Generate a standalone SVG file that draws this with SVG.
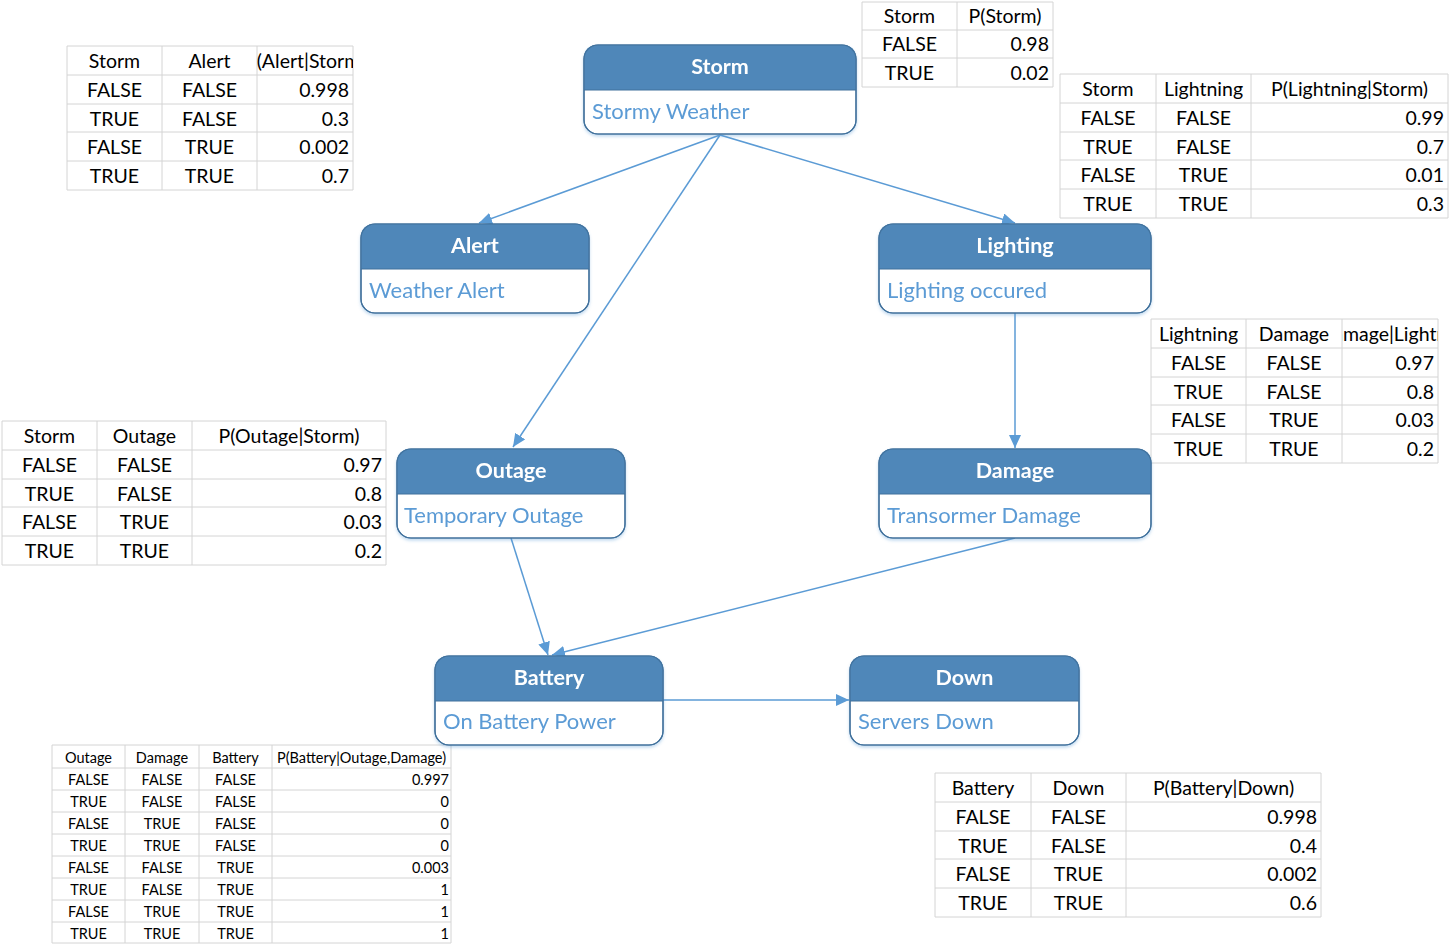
<svg xmlns="http://www.w3.org/2000/svg" width="1451" height="946" viewBox="0 0 1451 946">
<style>
.grid{fill:none;stroke:#d4d4d4;stroke-width:1}
.t{font-family:Lato,"Liberation Sans",sans-serif;font-size:19.5px;fill:#000}
.ts{font-family:Lato,"Liberation Sans",sans-serif;font-size:14.5px;fill:#000}
.c{text-anchor:middle}
.r{text-anchor:end}
.box{fill:#fff;stroke:#41719c;stroke-width:1.2}
.hdr{fill:#4f87b9}
.title{font-family:Lato,"Liberation Sans",sans-serif;font-size:21.5px;font-weight:bold;fill:#fff;text-anchor:middle}
.sub{font-family:Lato,"Liberation Sans",sans-serif;font-size:22px;fill:#5b9bd5}
.edge{fill:none;stroke:#5b9bd5;stroke-width:1.5}
</style>
<defs>
<marker id="arr" markerUnits="userSpaceOnUse" markerWidth="14" markerHeight="12" refX="13" refY="6" orient="auto">
<path d="M0,0 L13,6 L0,12 z" fill="#5b9bd5"/>
</marker>
<clipPath id="c1"><rect x="257" y="46" width="96" height="29"/></clipPath>
<clipPath id="c4"><rect x="1342" y="319" width="96" height="29"/></clipPath>
<clipPath id="c6"><rect x="272" y="745" width="179" height="23"/></clipPath>
<filter id="sh" x="-5%" y="-5%" width="110%" height="115%"><feDropShadow dx="0" dy="2" stdDeviation="1.5" flood-color="#5b9bd5" flood-opacity="0.35"/></filter>
</defs>
<rect width="1451" height="946" fill="#fff"/>

<!-- Tables -->
<g id="table-alert">
<path class="grid" d="M67,46H353M67,75H353M67,104H353M67,132H353M67,161H353M67,190H353M67,46V190M162,46V190M257,46V190M353,46V190"/>
<text class="t c" x="114.5" y="68">Storm</text><text class="t c" x="209.5" y="68">Alert</text>
<text class="t c" x="305" y="68" clip-path="url(#c1)">P(Alert|Storm)</text>
<text class="t c" x="114.5" y="97">FALSE</text><text class="t c" x="209.5" y="97">FALSE</text><text class="t r" x="349" y="97">0.998</text>
<text class="t c" x="114.5" y="126">TRUE</text><text class="t c" x="209.5" y="126">FALSE</text><text class="t r" x="349" y="126">0.3</text>
<text class="t c" x="114.5" y="154">FALSE</text><text class="t c" x="209.5" y="154">TRUE</text><text class="t r" x="349" y="154">0.002</text>
<text class="t c" x="114.5" y="183">TRUE</text><text class="t c" x="209.5" y="183">TRUE</text><text class="t r" x="349" y="183">0.7</text>
</g>

<g id="table-storm">
<path class="grid" d="M862,2H1053M862,30H1053M862,58H1053M862,87H1053M862,2V87M957,2V87M1053,2V87"/>
<text class="t c" x="909.5" y="23">Storm</text><text class="t c" x="1005" y="23">P(Storm)</text>
<text class="t c" x="909.5" y="51">FALSE</text><text class="t r" x="1049" y="51">0.98</text>
<text class="t c" x="909.5" y="80">TRUE</text><text class="t r" x="1049" y="80">0.02</text>
</g>

<g id="table-lightning">
<path class="grid" d="M1060,74H1448M1060,103H1448M1060,132H1448M1060,160H1448M1060,189H1448M1060,218H1448M1060,74V218M1156,74V218M1251,74V218M1448,74V218"/>
<text class="t c" x="1108" y="96">Storm</text><text class="t c" x="1203.5" y="96">Lightning</text><text class="t c" x="1349.5" y="96">P(Lightning|Storm)</text>
<text class="t c" x="1108" y="125">FALSE</text><text class="t c" x="1203.5" y="125">FALSE</text><text class="t r" x="1444" y="125">0.99</text>
<text class="t c" x="1108" y="154">TRUE</text><text class="t c" x="1203.5" y="154">FALSE</text><text class="t r" x="1444" y="154">0.7</text>
<text class="t c" x="1108" y="182">FALSE</text><text class="t c" x="1203.5" y="182">TRUE</text><text class="t r" x="1444" y="182">0.01</text>
<text class="t c" x="1108" y="211">TRUE</text><text class="t c" x="1203.5" y="211">TRUE</text><text class="t r" x="1444" y="211">0.3</text>
</g>

<g id="table-damage">
<path class="grid" d="M1151,319H1438M1151,348H1438M1151,377H1438M1151,405H1438M1151,434H1438M1151,463H1438M1151,319V463M1246,319V463M1342,319V463M1438,319V463"/>
<text class="t c" x="1198.5" y="341">Lightning</text><text class="t c" x="1294" y="341">Damage</text>
<text class="t c" x="1390" y="341" clip-path="url(#c4)">P(Damage|Lightning)</text>
<text class="t c" x="1198.5" y="370">FALSE</text><text class="t c" x="1294" y="370">FALSE</text><text class="t r" x="1434" y="370">0.97</text>
<text class="t c" x="1198.5" y="399">TRUE</text><text class="t c" x="1294" y="399">FALSE</text><text class="t r" x="1434" y="399">0.8</text>
<text class="t c" x="1198.5" y="427">FALSE</text><text class="t c" x="1294" y="427">TRUE</text><text class="t r" x="1434" y="427">0.03</text>
<text class="t c" x="1198.5" y="456">TRUE</text><text class="t c" x="1294" y="456">TRUE</text><text class="t r" x="1434" y="456">0.2</text>
</g>

<g id="table-outage">
<path class="grid" d="M2,421H386M2,450H386M2,479H386M2,507H386M2,536H386M2,565H386M2,421V565M97,421V565M192,421V565M386,421V565"/>
<text class="t c" x="49.5" y="443">Storm</text><text class="t c" x="144.5" y="443">Outage</text><text class="t c" x="289" y="443">P(Outage|Storm)</text>
<text class="t c" x="49.5" y="472">FALSE</text><text class="t c" x="144.5" y="472">FALSE</text><text class="t r" x="382" y="472">0.97</text>
<text class="t c" x="49.5" y="501">TRUE</text><text class="t c" x="144.5" y="501">FALSE</text><text class="t r" x="382" y="501">0.8</text>
<text class="t c" x="49.5" y="529">FALSE</text><text class="t c" x="144.5" y="529">TRUE</text><text class="t r" x="382" y="529">0.03</text>
<text class="t c" x="49.5" y="558">TRUE</text><text class="t c" x="144.5" y="558">TRUE</text><text class="t r" x="382" y="558">0.2</text>
</g>

<g id="table-battery">
<path class="grid" d="M52,745H451M52,768H451M52,790H451M52,812H451M52,834H451M52,856H451M52,878H451M52,900H451M52,922H451M52,943H451M52,745V943M125,745V943M199,745V943M272,745V943M451,745V943"/>
<text class="ts c" x="88.5" y="763">Outage</text><text class="ts c" x="162" y="763">Damage</text><text class="ts c" x="235.5" y="763">Battery</text>
<text class="ts c" x="361.5" y="763" clip-path="url(#c6)">P(Battery|Outage,Damage)</text>
<text class="ts c" x="88.5" y="785">FALSE</text><text class="ts c" x="162" y="785">FALSE</text><text class="ts c" x="235.5" y="785">FALSE</text><text class="ts r" x="449" y="785">0.997</text>
<text class="ts c" x="88.5" y="807">TRUE</text><text class="ts c" x="162" y="807">FALSE</text><text class="ts c" x="235.5" y="807">FALSE</text><text class="ts r" x="449" y="807">0</text>
<text class="ts c" x="88.5" y="829">FALSE</text><text class="ts c" x="162" y="829">TRUE</text><text class="ts c" x="235.5" y="829">FALSE</text><text class="ts r" x="449" y="829">0</text>
<text class="ts c" x="88.5" y="851">TRUE</text><text class="ts c" x="162" y="851">TRUE</text><text class="ts c" x="235.5" y="851">FALSE</text><text class="ts r" x="449" y="851">0</text>
<text class="ts c" x="88.5" y="873">FALSE</text><text class="ts c" x="162" y="873">FALSE</text><text class="ts c" x="235.5" y="873">TRUE</text><text class="ts r" x="449" y="873">0.003</text>
<text class="ts c" x="88.5" y="895">TRUE</text><text class="ts c" x="162" y="895">FALSE</text><text class="ts c" x="235.5" y="895">TRUE</text><text class="ts r" x="449" y="895">1</text>
<text class="ts c" x="88.5" y="917">FALSE</text><text class="ts c" x="162" y="917">TRUE</text><text class="ts c" x="235.5" y="917">TRUE</text><text class="ts r" x="449" y="917">1</text>
<text class="ts c" x="88.5" y="939">TRUE</text><text class="ts c" x="162" y="939">TRUE</text><text class="ts c" x="235.5" y="939">TRUE</text><text class="ts r" x="449" y="939">1</text>
</g>

<g id="table-down">
<path class="grid" d="M935,773H1321M935,802H1321M935,831H1321M935,859H1321M935,888H1321M935,917H1321M935,773V917M1031,773V917M1126,773V917M1321,773V917"/>
<text class="t c" x="983" y="795">Battery</text><text class="t c" x="1078.5" y="795">Down</text><text class="t c" x="1223.5" y="795">P(Battery|Down)</text>
<text class="t c" x="983" y="824">FALSE</text><text class="t c" x="1078.5" y="824">FALSE</text><text class="t r" x="1317" y="824">0.998</text>
<text class="t c" x="983" y="853">TRUE</text><text class="t c" x="1078.5" y="853">FALSE</text><text class="t r" x="1317" y="853">0.4</text>
<text class="t c" x="983" y="881">FALSE</text><text class="t c" x="1078.5" y="881">TRUE</text><text class="t r" x="1317" y="881">0.002</text>
<text class="t c" x="983" y="910">TRUE</text><text class="t c" x="1078.5" y="910">TRUE</text><text class="t r" x="1317" y="910">0.6</text>
</g>

<!-- Connectors -->
<g id="connectors">
<line class="edge" x1="720" y1="135" x2="479" y2="223" marker-end="url(#arr)"/>
<line class="edge" x1="720" y1="135" x2="513" y2="447" marker-end="url(#arr)"/>
<line class="edge" x1="720" y1="135" x2="1015" y2="223" marker-end="url(#arr)"/>
<line class="edge" x1="1015" y1="313" x2="1015" y2="448" marker-end="url(#arr)"/>
<line class="edge" x1="511" y1="538" x2="548" y2="655" marker-end="url(#arr)"/>
<line class="edge" x1="1015" y1="538" x2="552" y2="655" marker-end="url(#arr)"/>
<line class="edge" x1="663" y1="700" x2="849" y2="700" marker-end="url(#arr)"/>
</g>

<!-- Nodes -->
<g id="node-storm" filter="url(#sh)">
<rect class="box" x="584" y="45" width="272" height="89" rx="14"/>
<path class="hdr" d="M584,90V59Q584,45 598,45H842Q856,45 856,59V90Z"/>
<rect class="box" x="584" y="45" width="272" height="89" rx="14" style="fill:none"/>
<line x1="584" y1="90" x2="856" y2="90" stroke="#41719c" stroke-width="1"/>
<text class="title" x="720" y="74">Storm</text>
<text class="sub" x="592" y="119">Stormy Weather</text>
</g>

<g id="node-alert" filter="url(#sh)">
<rect class="box" x="361" y="224" width="228" height="89" rx="14"/>
<path class="hdr" d="M361,269V238Q361,224 375,224H575Q589,224 589,238V269Z"/>
<rect class="box" x="361" y="224" width="228" height="89" rx="14" style="fill:none"/>
<line x1="361" y1="269" x2="589" y2="269" stroke="#41719c" stroke-width="1"/>
<text class="title" x="475" y="253">Alert</text>
<text class="sub" x="369" y="298">Weather Alert</text>
</g>

<g id="node-lighting" filter="url(#sh)">
<rect class="box" x="879" y="224" width="272" height="89" rx="14"/>
<path class="hdr" d="M879,269V238Q879,224 893,224H1137Q1151,224 1151,238V269Z"/>
<rect class="box" x="879" y="224" width="272" height="89" rx="14" style="fill:none"/>
<line x1="879" y1="269" x2="1151" y2="269" stroke="#41719c" stroke-width="1"/>
<text class="title" x="1015" y="253">Lighting</text>
<text class="sub" x="887" y="298">Lighting occured</text>
</g>

<g id="node-outage" filter="url(#sh)">
<rect class="box" x="397" y="449" width="228" height="89" rx="14"/>
<path class="hdr" d="M397,494V463Q397,449 411,449H611Q625,449 625,463V494Z"/>
<rect class="box" x="397" y="449" width="228" height="89" rx="14" style="fill:none"/>
<line x1="397" y1="494" x2="625" y2="494" stroke="#41719c" stroke-width="1"/>
<text class="title" x="511" y="478">Outage</text>
<text class="sub" x="404" y="523">Temporary Outage</text>
</g>

<g id="node-damage" filter="url(#sh)">
<rect class="box" x="879" y="449" width="272" height="89" rx="14"/>
<path class="hdr" d="M879,494V463Q879,449 893,449H1137Q1151,449 1151,463V494Z"/>
<rect class="box" x="879" y="449" width="272" height="89" rx="14" style="fill:none"/>
<line x1="879" y1="494" x2="1151" y2="494" stroke="#41719c" stroke-width="1"/>
<text class="title" x="1015" y="478">Damage</text>
<text class="sub" x="887" y="523">Transormer Damage</text>
</g>

<g id="node-battery" filter="url(#sh)">
<rect class="box" x="435" y="656" width="228" height="89" rx="14"/>
<path class="hdr" d="M435,701V670Q435,656 449,656H649Q663,656 663,670V701Z"/>
<rect class="box" x="435" y="656" width="228" height="89" rx="14" style="fill:none"/>
<line x1="435" y1="701" x2="663" y2="701" stroke="#41719c" stroke-width="1"/>
<text class="title" x="549" y="685">Battery</text>
<text class="sub" x="443" y="729">On Battery Power</text>
</g>

<g id="node-down" filter="url(#sh)">
<rect class="box" x="850" y="656" width="229" height="89" rx="14"/>
<path class="hdr" d="M850,701V670Q850,656 864,656H1065Q1079,656 1079,670V701Z"/>
<rect class="box" x="850" y="656" width="229" height="89" rx="14" style="fill:none"/>
<line x1="850" y1="701" x2="1079" y2="701" stroke="#41719c" stroke-width="1"/>
<text class="title" x="964.5" y="685">Down</text>
<text class="sub" x="858" y="729">Servers Down</text>
</g>
</svg>
